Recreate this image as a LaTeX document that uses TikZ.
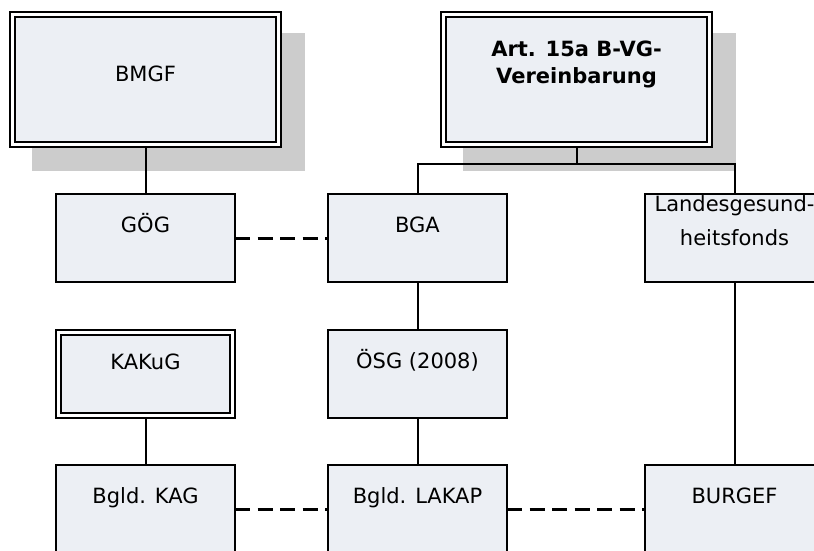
\documentclass[tikz,border=0pt]{standalone}
\usepackage{fontspec}
\setmainfont{DejaVu Sans}
\usetikzlibrary{positioning, backgrounds}

\definecolor{boxfill}{RGB}{236,239,244}
\definecolor{shadowgray}{RGB}{204,204,204}

\begin{document}
\begin{tikzpicture}[
  x=1pt, y=-1pt,
  unitbox/.style={rectangle, draw, line width=2pt, fill=boxfill, minimum width=179pt, minimum height=88pt, inner sep=0pt, outer sep=0pt, text height=38pt, text depth=50pt, align=center, font=\fontsize{21}{27}\selectfont},
  lawbox/.style={unitbox, double=white, double distance=3pt},
  dropbox/.style={fill=shadowgray},
  link/.style={line width=2pt},
  dashlink/.style={line width=3pt, dash pattern=on 15pt off 7.5pt}
]
\clip (0,0) rectangle (814,550);

% top row: the two legal frameworks
\node[lawbox, minimum width=266pt, minimum height=130pt, text height=66.5pt, text depth=63.5pt] (bmgf) at (145.5,79.5) {BMGF};
\node[lawbox, minimum width=266pt, minimum height=130pt, text height=68.5pt, text depth=61.5pt, font=\fontsize{21}{27}\selectfont\bfseries] (art) at (576.5,79.5) {Art. 15a B-VG-\\Vereinbarung};

% second row
\node[unitbox] (goeg) at (145.5,238) {GÖG};
\node[unitbox, right=93pt of goeg] (bga) {BGA};
\node[unitbox, right=138pt of bga, text height=51pt, text depth=37pt, font=\fontsize{21}{34}\selectfont] (lgf) {Landesgesund-\\heitsfonds};

% third row
\node[unitbox, below=48pt of bga] (oesg) {ÖSG (2008)};
\node[lawbox, minimum width=174pt, minimum height=83pt, text height=36.5pt, text depth=46.5pt] (kakug) at (oesg -| goeg) {KAKuG};

% bottom row
\node[unitbox, below=47pt of oesg] (lakap) {Bgld. LAKAP};
\node[unitbox] (kag) at (lakap -| goeg) {Bgld. KAG};
\node[unitbox] (burgef) at (lakap -| lgf) {BURGEF};

\begin{scope}[on background layer]
\fill[dropbox] ([shift={(19.5,18.5)}]bmgf.north west) rectangle ([shift={(26.5,26.5)}]bmgf.south east);
\fill[dropbox] ([shift={(19.5,18.5)}]art.north west) rectangle ([shift={(26.5,26.5)}]art.south east);

\coordinate (artjoin) at (art.south |- 0,164);
\draw[link] (bmgf) -- (goeg);
\draw[link] (art) -- (artjoin);
\draw[link] (artjoin) -| (bga);
\draw[link] (artjoin) -| (lgf);
\draw[link] (bga) -- (oesg);
\draw[link] (oesg) -- (lakap);
\draw[link] (kakug) -- (kag);
\draw[link] (lgf) -- (burgef);
\end{scope}

\draw[dashlink] (goeg) -- (bga);
\draw[dashlink] (kag) -- (lakap);
\draw[dashlink] (lakap) -- (burgef);

\end{tikzpicture}
\end{document}
